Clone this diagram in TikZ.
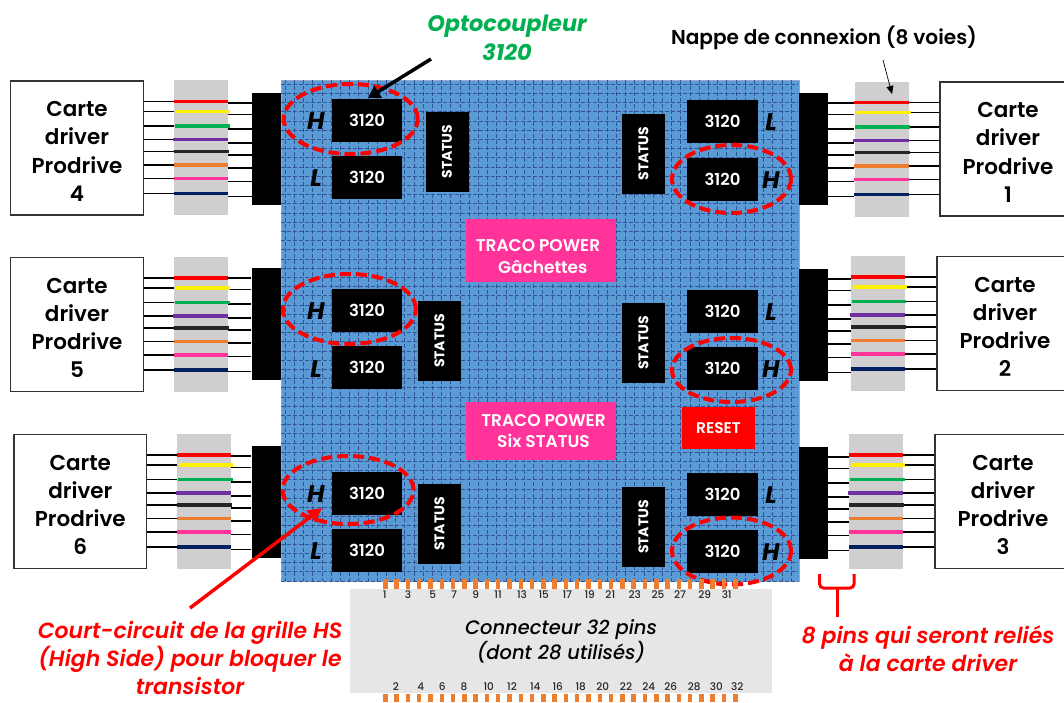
\documentclass[tikz,border=0pt]{standalone}
\usepackage{fontspec}
\setmainfont{Poppins}
\newfontfamily\medfont{Poppins Medium}
\newfontfamily\meditfont{Poppins Medium Italic}
\newfontfamily\semifont{Poppins SemiBold}
\newfontfamily\semitfont{Poppins SemiBold Italic}
\definecolor{boardBlue}{HTML}{5B9BD5}
\definecolor{gridBlue}{HTML}{2F5597}
\definecolor{bandGrey}{HTML}{D0CECE}
\definecolor{sockGrey}{HTML}{E7E6E6}
\definecolor{pinOrange}{HTML}{ED7D31}
\definecolor{tracoPink}{HTML}{FF3399}
\definecolor{optoGreen}{HTML}{00B050}
\definecolor{wireNavy}{HTML}{002060}
\definecolor{wirePurple}{HTML}{7030A0}
\definecolor{wireBlack}{HTML}{262626}
\usetikzlibrary{arrows.meta, shapes.geometric}

\begin{document}
\begin{tikzpicture}[
  x=1pt, y=-1pt,
  card/.style={draw=black!80, line width=1.2pt, fill=white, minimum height=134pt, inner sep=0pt, align=center, font=\fontsize{21.5}{28.3}\selectfont\semifont},
  band/.style={fill=bandGrey, minimum width=54pt, minimum height=135pt, inner sep=0pt},
  conn/.style={fill=black, minimum width=29pt, minimum height=112pt, inner sep=0pt},
  chip/.style={fill=black, text=white, minimum width=70.5pt, minimum height=43pt, inner sep=0pt, font=\fontsize{16.5}{17}\selectfont\semifont},
  stat/.style={fill=black, text=white, rotate=90, minimum width=80pt, minimum height=43pt, inner sep=0pt, font=\fontsize{14}{14}\selectfont\bfseries},
  side/.style={inner sep=0pt, font=\fontsize{24}{24}\selectfont\bfseries\itshape},
  halo/.style={ellipse, draw=red, line width=4pt, dash pattern=on 11pt off 5pt, inner sep=0pt},
  traco/.style={fill=tracoPink, text=white, minimum width=150pt, inner sep=0pt, align=center, font=\fontsize{17}{21.5}\selectfont\semifont},
  wire/.style={draw=black, line width=1.5pt},
  bar/.style={line width=3.6pt},
  pin/.style={fill=pinOrange, minimum width=4.5pt, inner sep=0pt},
  pinnum/.style={inner sep=0pt, font=\fontsize{10.5}{10.5}\selectfont\medfont, text=black!85},
  note/.style={align=center, inner sep=0pt, text=red, font=\fontsize{22}{28}\selectfont\semitfont},
]
  \useasboundingbox (0,0) rectangle (1064,702);

  % board with its dashed grid
  \node[fill=boardBlue, draw=gridBlue!50, minimum width=518pt, minimum height=501pt, inner sep=0pt] (board) at (540,330.5) {};
  \foreach \gx in {0,...,55}
    \draw[gridBlue, line width=0.5pt, dash pattern=on 3.5pt off 2.5pt] (285+\gx*9.2,80) -- (285+\gx*9.2,581);
  \foreach \gy in {0,...,54}
    \draw[gridBlue, line width=0.5pt, dash pattern=on 3.5pt off 2.5pt] (281,84+\gy*9.2) -- (798,84+\gy*9.2);

  % driver cards, ribbons and headers
  \foreach \n/\cx/\cy/\cw/\bx/\by/\kx/\ky/\ka/\kb/\ba/\bb in {
      4/77/148/132.5/201/147.5/266.5/149/north east/north west/west/east,
      5/77/324.5/132.5/201/324.5/266/324/north east/north west/west/east,
      6/80.3/501.5/132.5/204/501.5/266/502/north east/north west/west/east,
      1/1008/149/136/881.5/149/813/149/north west/north east/east/west,
      2/1005/323.5/136/877.7/323.5/813/325/north west/north east/east/west,
      3/1003/501.5/136/876/501.5/813/503/north west/north east/east/west} {
    \node[card, minimum width=\cw pt] (card\n) at (\cx,\cy) {\rule{0pt}{22pt}Carte\\driver\\Prodrive\\\n};
    \node[band] (band\n) at (\bx,\by) {};
    \node[conn] (conn\n) at (\kx,\ky) {};
    \foreach \c/\l/\r/\sa/\sb in {
        red/21/10/0/0, yellow/31/21.5/2/-2, optoGreen/45.5/36/1/-1.5, wirePurple/59/50/-1/0,
        wireBlack/71/62/0.5/-1, pinOrange/84.5/75/0/0, tracoPink/98/88.5/0/0, wireNavy/113/103.5/0/0} {
      \coordinate (wc) at ([yshift=-\l pt]card\n.\ka);
      \coordinate (wk) at ([yshift=-\r pt]conn\n.\kb);
      \draw[wire] (wc) -- (wc -| band\n.\ba);
      \draw[wire] (wk) -- (wk -| band\n.\bb);
      \draw[bar, \c, shorten <=\sa pt, shorten >=\sb pt] (wc -| band\n.west) -- (wc -| band\n.east);
    }
  }

  % optocouplers and their H / L marks
  \foreach \n/\s/\x/\y/\lx in {
      4H/H/367/120.5/316, 4L/L/367/177.5/316, 5H/H/367/310/316, 5L/L/367/367.7/316,
      6H/H/367/493/316, 6L/L/367/550.3/316, 1L/L/722.5/121.5/771, 1H/H/722.5/179/771,
      2L/L/722.5/311.3/771, 2H/H/722.5/368.5/771, 3L/L/722.5/494/771, 3H/H/722.5/551.3/771} {
    \node[chip] (chip\n) at (\x,\y) {3120};
    \node[side] (side\n) at (\lx,\y+1) {\s};
  }

  \foreach \n/\x/\y in {4/447/151.5, 5/439.5/341, 6/439.5/524, 1/643.5/153.5, 2/643.5/343, 3/643.5/527}
    \node[stat] (stat\n) at (\x,\y) {STATUS};

  \node[traco, minimum height=63pt] (tracoG) at (541,250.5) {\rule{0pt}{24pt}TRACO POWER\hspace*{6pt}\\\hspace*{3.5pt}Gâchettes};
  \node[traco, minimum height=58pt] (tracoS) at (540.5,431) {\hspace*{6pt}TRACO POWER\\\hspace*{6pt}Six STATUS};
  \node[fill=red, text=white, minimum width=73pt, minimum height=42pt, inner sep=0pt, font=\fontsize{15.5}{15.5}\selectfont\semifont] (reset) at (718.5,428) {RESET};

  % dashed rings round the shorted channels
  \node[halo, minimum width=134pt, minimum height=70pt] (halo4) at (350.7,119) {};
  \node[halo, minimum width=133pt, minimum height=70pt] (halo5) at (349.3,309) {};
  \node[halo, minimum width=131pt, minimum height=68pt] (halo6) at (348,490) {};
  \node[halo, minimum width=119pt, minimum height=68pt] (halo1) at (731.5,179) {};
  \node[halo, minimum width=119pt, minimum height=64pt] (halo2) at (731.5,370) {};
  \node[halo, minimum width=119pt, minimum height=67pt] (halo3) at (731.5,551) {};

  % 32 pin connector
  \node[fill=sockGrey, minimum width=422pt, minimum height=104pt, inner sep=0pt] (sock) at (561,641) {};
  \foreach \i in {0,...,31} {
    \node[pin, minimum height=10pt] (pinT\i) at (385.3+\i*11.29,584) {};
    \node[pin, minimum height=8pt] (pinB\i) at (385.3+\i*11.29,698) {};
  }
  \foreach \t/\x in {1/384.7,3/408,5/432.7,7/454,9/475.7,11/498,13/522,15/543.7,17/567.3,19/589.7,21/610.3,23/634.7,25/658,27/680,29/704.7,31/726.7}
    \node[pinnum] (num\t) at (\x,595) {\t};
  \foreach \t/\x in {2/396,4/420.7,6/442.3,8/464,10/488.7,12/512,14/535.3,16/557.7,18/580.7,20/602.7,22/626,24/648.7,26/670.7,28/694.3,30/716.3,32/737.3}
    \node[pinnum] (num\t) at (\x,687) {\t};
  \node[align=center, inner sep=0pt, font=\fontsize{19.5}{25}\selectfont\meditfont] (socktext) at (561,641) {Connecteur 32 pins\\(dont 28 utilisés)};

  % labels
  \node[align=center, inner sep=0pt, text=optoGreen, font=\fontsize{22.4}{29}\selectfont\bfseries\itshape] (opto) at (507,38) {Optocoupleur\\3120};
  \node[inner sep=0pt, font=\fontsize{20.1}{20}\selectfont\semifont] (nappe) at (824,38) {Nappe de connexion (8 voies)};
  \node[note] (court) at (190,658) {Court-circuit de la grille HS\\(High Side) pour bloquer le\\transistor};
  \node[note] (pins) at (928,649) {8 pins qui seront reliés\\à la carte driver};

  % arrows
  \coordinate (optoTail) at (431,59);
  \coordinate (optoTip) at (368,98);
  \coordinate (nappeTail) at (883,60);
  \coordinate (nappeTip) at (892,94);
  \coordinate (courtTail) at (190,608);
  \coordinate (courtTip) at (322,508);
  \draw[-{Triangle[length=12pt,width=14pt]}, line width=3.5pt] (optoTail) -- (optoTip);
  \draw[-{Triangle[length=8pt,width=7pt]}, line width=0.7pt] (nappeTail) -- (nappeTip);
  \draw[-{Triangle[length=14pt,width=14pt]}, red, line width=3.5pt] (courtTail) -- (courtTip);

  % brace under the pins
  \coordinate (braceL) at (819.5,574);
  \coordinate (braceR) at (854,574);
  \coordinate (braceM) at (837,588);
  \coordinate (braceS) at (837,617);
  \draw[red, line width=3pt, rounded corners=4pt] (braceL) -- (braceL |- braceM) -- (braceR |- braceM) -- (braceR);
  \draw[red, line width=3pt] (braceM) -- (braceS);
\end{tikzpicture}
\end{document}
